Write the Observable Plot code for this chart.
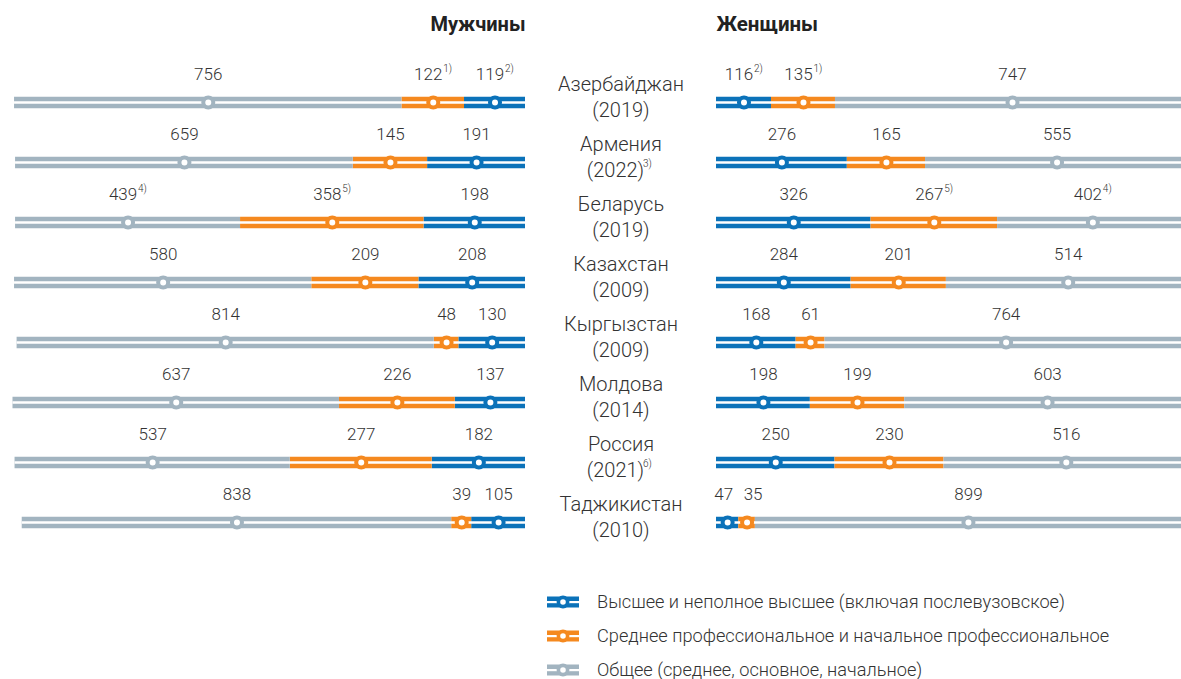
<!DOCTYPE html>
<html>
<head>
<meta charset="utf-8">
<script src="https://cdn.jsdelivr.net/npm/d3@7"></script>
<script src="https://cdn.jsdelivr.net/npm/@observablehq/plot@0.6"></script>
<style>
  html, body { margin: 0; padding: 0; background: #fff; }
  body { width: 1181px; height: 679px; overflow: hidden; font-family: Roboto, "Liberation Sans", sans-serif; }
  #charts { display: flex; width: 1181px; overflow: hidden; }
  #charts svg { flex: none; overflow: visible; }
  #legend { position: relative; height: 94px; }
  .lg-row { position: absolute; left: 547px; height: 20px; line-height: 20px; display: flex; align-items: center; font-size: 18.2px; font-weight: 300; color: #333; white-space: nowrap; }
  .lg-row svg { margin-right: 18px; }
</style>
</head>
<body>
<div id="charts"></div>
<div id="legend"></div>
<script>
// ---- Data ----
const countries = ["Азербайджан", "Армения", "Беларусь", "Казахстан", "Кыргызстан", "Молдова", "Россия", "Таджикистан"];
const years = ["(2019)", "(2022)", "(2019)", "(2009)", "(2009)", "(2014)", "(2021)", "(2010)"];
const yearNotes = ["", "3)", "", "", "", "", "6)", ""];

const levels = ["higher", "vocational", "general"];
const levelNames = [
  "Высшее и неполное высшее (включая послевузовское)",
  "Среднее профессиональное и начальное профессиональное",
  "Общее (среднее, основное, начальное)"
];
const levelColors = ["#0b72b9", "#f5891f", "#a2b4c0"];

const menHigher = [119, 191, 198, 208, 130, 137, 182, 105];
const menVocational = [122, 145, 358, 209, 48, 226, 277, 39];
const menGeneral = [756, 659, 439, 580, 814, 637, 537, 838];
const menHigherNotes = ["2)", "", "", "", "", "", "", ""];
const menVocationalNotes = ["1)", "", "5)", "", "", "", "", ""];
const menGeneralNotes = ["", "", "4)", "", "", "", "", ""];

const womenHigher = [116, 276, 326, 284, 168, 198, 250, 47];
const womenVocational = [135, 165, 267, 201, 61, 199, 230, 35];
const womenGeneral = [747, 555, 402, 514, 764, 603, 516, 899];
const womenHigherNotes = ["2)", "", "", "", "", "", "", ""];
const womenVocationalNotes = ["1)", "", "5)", "", "", "", "", ""];
const womenGeneralNotes = ["", "", "4)", "", "", "", "", ""];

const sexTitles = ["Мужчины", "Женщины"];

// small label nudges (pixels) where neighbouring value labels would collide
const labelNudge = {"women|Таджикистан|higher": -4, "women|Таджикистан|vocational": 6};

// ---- Build segments ----
function buildSegments(sex, series, notes) {
  const segs = [], bars = [];
  countries.forEach((c, i) => {
    let cum = 0;
    levels.forEach((lv, k) => {
      const v = series[k][i];
      segs.push({country: c, level: lv, color: levelColors[k], value: v, note: notes[k][i],
                 nudge: labelNudge[`${sex}|${c}|${lv}`] || 0,
                 x1: cum, x2: cum + v, mid: cum + v / 2});
      cum += v;
    });
    bars.push({country: c, x1: 0, x2: cum});
  });
  return {segs, bars};
}
const men = buildSegments("men", [menHigher, menVocational, menGeneral], [menHigherNotes, menVocationalNotes, menGeneralNotes]);
const women = buildSegments("women", [womenHigher, womenVocational, womenGeneral], [womenHigherNotes, womenVocationalNotes, womenGeneralNotes]);
const rows = countries.map((c, i) => ({country: c, year: years[i], note: yearNotes[i]}));

const H = 585;
const ROW_TOP = 99, ROW_BOTTOM = 525;
const txt = {fill: "#333", fontWeight: 300, lineAnchor: "middle"};

function valueLabels(segs) {
  // group by horizontal offset (dx is a constant option in Plot)
  const groups = d3.groups(segs, s => (s.note ? -5 : 0) + s.nudge);
  return groups.map(([dx, g]) =>
    Plot.text(g, {x: "mid", y: "country", text: s => String(s.value), dy: -28, dx, fontSize: 17, ...txt}));
}

function barMarks(d) {
  return [
    Plot.ruleY(d.segs, {y: "country", x1: "x1", x2: "x2", stroke: "color", strokeWidth: 11.5}),
    Plot.ruleY(d.bars, {y: "country", x1: "x1", x2: "x2", stroke: "white", strokeWidth: 2.5}),
    Plot.dot(d.segs, {x: "mid", y: "country", r: 5, fill: "white", stroke: "color", strokeWidth: 4}),
    ...valueLabels(d.segs),
    Plot.text(d.segs.filter(s => s.note), {x: "mid", y: "country", text: "note", dy: -34, dx: 10, textAnchor: "start", fontSize: 10, ...txt})
  ];
}

const common = {
  height: H,
  marginTop: ROW_TOP,
  marginBottom: H - ROW_BOTTOM,
  y: {type: "point", domain: countries, padding: 0, axis: null},
  style: {fontFamily: "Roboto, 'Liberation Sans', sans-serif", fontSize: "17px", color: "#333", background: "white", overflow: "visible"}
};

// Men: bars grow leftward from the gap; country names sit in the right margin.
const menChart = Plot.plot({
  ...common,
  width: 716,
  marginLeft: 12.5,
  marginRight: 191,
  x: {domain: [1000, 0], axis: null},
  marks: [
    ...barMarks(men),
    Plot.text(rows, {frameAnchor: "right", y: "country", text: "country", dx: 95.5, dy: -18, textAnchor: "middle", fontSize: 20, ...txt}),
    Plot.text(rows.filter(r => !r.note), {frameAnchor: "right", y: "country", text: "year", dx: 95.5, dy: 8, textAnchor: "middle", fontSize: 20, ...txt}),
    Plot.text(rows.filter(r => r.note), {frameAnchor: "right", y: "country", text: "year", dx: 90, dy: 8, textAnchor: "middle", fontSize: 20, ...txt}),
    Plot.text(rows.filter(r => r.note), {frameAnchor: "right", y: "country", text: "note", dx: 117.5, dy: 1, textAnchor: "start", fontSize: 10, ...txt}),
    Plot.text([sexTitles[0]], {frameAnchor: "top-right", text: d => d, dy: 24 - ROW_TOP, textAnchor: "end", lineAnchor: "middle", fontWeight: 700, fontSize: 20, fill: "#222"})
  ]
});

// Women: bars grow rightward from the gap.
const womenChart = Plot.plot({
  ...common,
  width: 474,
  marginLeft: 0,
  marginRight: 0,
  x: {domain: [0, 1000], axis: null},
  marks: [
    ...barMarks(women),
    Plot.text([sexTitles[1]], {frameAnchor: "top-left", text: d => d, dy: 24 - ROW_TOP, textAnchor: "start", lineAnchor: "middle", fontWeight: 700, fontSize: 20.5, fill: "#222"})
  ]
});

const holder = document.getElementById("charts");
holder.appendChild(menChart);
holder.appendChild(womenChart);

// ---- Legend ----
const legend = document.getElementById("legend");
levelNames.forEach((name, k) => {
  const row = document.createElement("div");
  row.className = "lg-row";
  row.style.top = (7 + k * 34) + "px";
  const c = levelColors[k];
  row.innerHTML = `<svg width="32" height="14" viewBox="0 0 32 14">
    <rect x="0" y="1.5" width="32" height="11" fill="${c}"/>
    <rect x="0" y="6" width="32" height="2.2" fill="white"/>
    <circle cx="16" cy="7" r="4.6" fill="white" stroke="${c}" stroke-width="3.6"/>
  </svg><span>${name}</span>`;
  legend.appendChild(row);
});
</script>
</body>
</html>
